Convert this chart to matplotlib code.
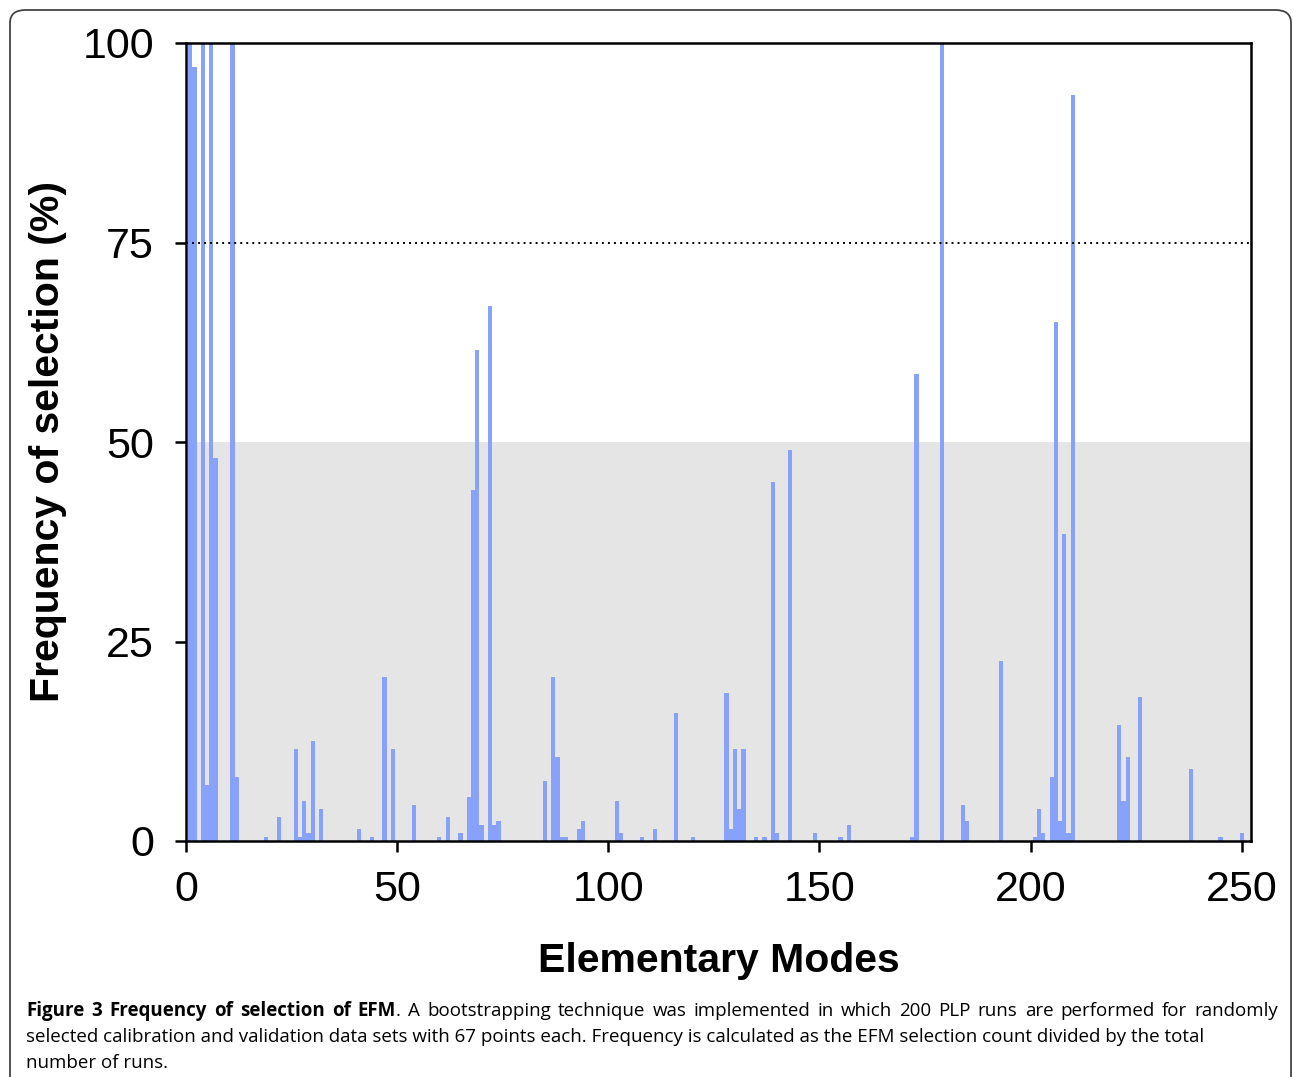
import matplotlib
matplotlib.use("Agg")
import matplotlib.pyplot as plt
from matplotlib.patches import FancyBboxPatch

# frequency of selection (%) per elementary mode, modes not listed are 0
modes = [1, 2, 4, 5, 6, 7, 11, 12, 19, 22, 26, 27, 28, 29, 30, 32, 41, 44, 47, 49,
         54, 60, 62, 65, 67, 68, 69, 70, 72, 73, 74, 85, 87, 88, 89, 90, 93, 94,
         102, 103, 108, 111, 116, 120, 128, 129, 130, 131, 132, 135, 137, 139, 140,
         143, 149, 155, 157, 172, 173, 179, 184, 185, 193, 201, 202, 203, 205, 206,
         207, 208, 209, 210, 221, 222, 223, 226, 238, 245, 250]
freq = [100, 97, 100, 7, 100, 48, 100, 8, 0.5, 3, 11.5, 0.5, 5, 1, 12.5, 4, 1.5, 0.5, 20.5, 11.5,
        4.5, 0.5, 3, 1, 5.5, 44, 61.5, 2, 67, 2, 2.5, 7.5, 20.5, 10.5, 0.5, 0.5, 1.5, 2.5,
        5, 1, 0.5, 1.5, 16, 0.5, 18.5, 1.5, 11.5, 4, 11.5, 0.5, 0.5, 45, 1,
        49, 1, 0.5, 2, 0.5, 58.5, 100, 4.5, 2.5, 22.5, 0.5, 4, 1, 8, 65,
        2.5, 38.5, 1, 93.5, 14.5, 5, 10.5, 18, 9, 0.5, 1]

xticks = [0, 50, 100, 150, 200, 250]
yticks = [0, 25, 50, 75, 100]

caption_bold = "Figure 3 Frequency of selection of EFM"
caption_line1 = ". A bootstrapping technique was implemented in which 200 PLP runs are performed for randomly"
caption_line2 = ("selected calibration and validation data sets with 67 points each. "
                 "Frequency is calculated as the EFM selection count divided by the total")
caption_line3 = "number of runs."

W, H = 1293, 1077
fig = plt.figure(figsize=(W / 100, H / 100), dpi=100)
plt.rcParams['font.family'] = ['Liberation Sans', 'DejaVu Sans']

# outer frame of the figure panel
frame = FancyBboxPatch((10 / W, -0.05), (1291 - 10) / W, 1.05 - 10 / H,
                       boxstyle="round,pad=0,rounding_size=0.012",
                       transform=fig.transFigure, fill=False,
                       edgecolor='#444444', linewidth=1.3, clip_on=False)
fig.patches.append(frame)

ax = fig.add_axes([186 / W, 1 - 841 / H, (1251 - 186) / W, (841 - 43) / H])

# grey band below 50% and dotted line at 75%
ax.axhspan(0, 50, color='#e5e5e5', zorder=0, linewidth=0)
ax.axhline(75, color='black', linestyle=(0, (1, 2.1)), linewidth=1.4, zorder=3)

ax.bar(modes, freq, width=1.0, color='#88a2fb', linewidth=0, zorder=2)

ax.set_xlim(0, 252.2)
ax.set_ylim(0, 100)
ax.set_xticks(xticks)
ax.set_yticks(yticks)
ax.tick_params(axis='both', labelsize=31, length=8, width=1.8, direction='out')
ax.tick_params(axis='y', pad=15)
ax.tick_params(axis='x', pad=13)
for s in ax.spines.values():
    s.set_linewidth(1.8)

ax.set_xlabel('Elementary Modes', fontsize=29.5, fontweight='bold')
ax.set_ylabel('Frequency of selection (%)', fontsize=29.5, fontweight='bold')
ax.xaxis.set_label_coords(0.5, -0.127)
ax.yaxis.set_label_coords(-0.112, 0.5)

# caption, first line justified
cap_font = ['Open Sans', 'DejaVu Sans']
cap_size = 13.5
x0, x1 = 26, 1278
renderer = fig.canvas.get_renderer()

words = [(w, 'bold') for w in caption_bold.split(' ')]
rest = caption_line1.split(' ')
first_rest = rest[0]  # the period attaches to "EFM"
words.append((first_rest, 'normal'))
words += [(w, 'normal') for w in rest[1:]]

items = []
for w, wt in words:
    t = fig.text(0, 0, w, fontsize=cap_size, fontweight=wt, family=cap_font,
                 transform=None, va='baseline', ha='left')
    items.append(t)
widths = [t.get_window_extent(renderer).width for t in items]
n_gaps = len(items) - 2
gap = (x1 - x0 - sum(widths)) / n_gaps
xpos = x0
for i, t in enumerate(items):
    t.set_position((xpos, H - 1016))
    xpos += widths[i]
    if i + 1 < len(items) and items[i + 1].get_text() != first_rest:
        xpos += gap

fig.text(x0, H - 1042, caption_line2, fontsize=cap_size, family=cap_font,
         transform=None, va='baseline', ha='left')
fig.text(x0, H - 1068, caption_line3, fontsize=cap_size, family=cap_font,
         transform=None, va='baseline', ha='left')

fig.savefig('out.png', dpi=100)
